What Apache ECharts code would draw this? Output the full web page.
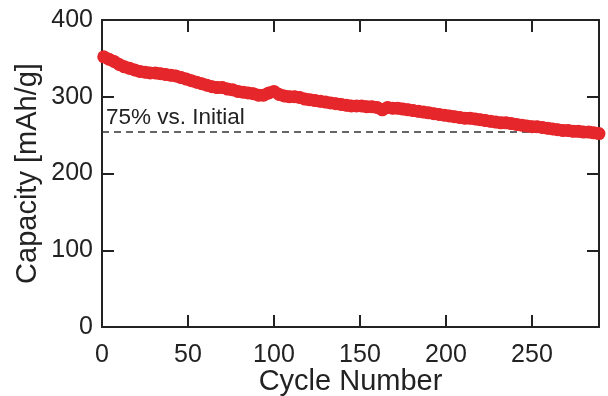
<!DOCTYPE html>
<html>
<head>
<meta charset="utf-8">
<script src="https://cdn.jsdelivr.net/npm/echarts@6/dist/echarts.min.js"></script>
<style>html,body{margin:0;padding:0;background:#fff}#c{width:608px;height:396px}</style>
</head>
<body>
<div id="c"></div>
<script>
const cycles = [1,4,7,10,13,16,19,22,25,28,31,34,37,40,43,46,49,52,55,58,61,64,67,70,73,76,79,82,85,88,91,94,97,100,103,106,109,112,115,118,121,124,127,130,133,136,139,142,145,148,151,154,157,160,163,166,169,172,175,178,181,184,187,190,193,196,199,202,205,208,211,214,217,220,223,226,229,232,235,238,241,244,247,250,253,256,259,262,265,268,271,274,277,280,283,286,289];
const capacity = [352,349,346,342,339,337,335,333,332,331,331,330,329,328,327,325,323,321,319,317,315,313,312,312,310,309,307,306,305,304,302,302,305,307,303,301,300,300,299,297,296,295,294,293,292,291,290,289,288,288,288,287,287,286,283,286,285,285,284,283,282,281,280,279,278,277,276,275,274,273,272,272,271,270,269,268,267,266,266,265,264,263,262,261,261,260,259,258,257,256,256,255,255,254,254,253,252];
const refValue = 254;
const refLabel = '75% vs. Initial';
const xTicks = [0,50,100,150,200,250];
const yTicks = [0,100,200,300,400];

const font = 'Arial, "Liberation Sans", Helvetica, sans-serif';
const axisColor = '#222';
const chart = echarts.init(document.getElementById('c'), null, {renderer:'canvas'});
const pts = cycles.map((c,i)=>[c, capacity[i]]);
const baseX = {
  type:'value', min:0, max:289, interval:50,
  axisLine:{show:true, onZero:false, lineStyle:{color:axisColor, width:2}},
  axisTick:{show:true, inside:true, length:12, lineStyle:{color:axisColor, width:2}},
  splitLine:{show:false}
};
const baseY = {
  type:'value', min:0, max:400, interval:100,
  axisLine:{show:true, onZero:false, lineStyle:{color:axisColor, width:2}},
  axisTick:{show:true, inside:true, length:12, lineStyle:{color:axisColor, width:2}},
  splitLine:{show:false}
};
chart.setOption({
  animation:false,
  grid:{left:102, right:9, top:20, bottom:69, containLabel:false, outerBoundsMode:'none'},
  xAxis:[
    Object.assign({}, baseX, {
      position:'bottom',
      name:'Cycle Number', nameLocation:'middle', nameGap:40, nameMoveOverlap:false,
      nameTextStyle:{fontFamily:font, fontSize:29, color:axisColor},
      axisLabel:{show:true, margin:16, fontFamily:font, fontSize:25, color:axisColor, showMaxLabel:false,
        formatter:v=> xTicks.includes(v) ? String(v) : ''}
    }),
    Object.assign({}, baseX, {position:'top', axisLabel:{show:false}})
  ],
  yAxis:[
    Object.assign({}, baseY, {
      position:'left',
      name:'Capacity [mAh/g]', nameLocation:'middle', nameGap:60, nameMoveOverlap:false,
      nameTextStyle:{fontFamily:font, fontSize:29, color:axisColor},
      axisLabel:{show:true, margin:9, fontFamily:font, fontSize:25, color:axisColor,
        formatter:v=> yTicks.includes(v) ? String(v) : ''}
    }),
    Object.assign({}, baseY, {position:'right', axisLabel:{show:false}})
  ],
  series:[{
    type:'line',
    data:pts,
    xAxisIndex:0, yAxisIndex:0,
    symbol:'circle', symbolSize:13, showSymbol:true,
    itemStyle:{color:'#e5262a'},
    lineStyle:{color:'#e5262a', width:12},
    z:3,
    markLine:{
      silent:true, symbol:['none','none'],
      lineStyle:{color:'#333', type:[7,5], width:1.5},
      label:{show:true, position:'insideStartTop', formatter:refLabel, fontFamily:font, fontSize:22.5, color:axisColor, distance:[4,3]},
      data:[{yAxis:refValue}],
      z:2
    }
  }]
});
</script>
</body>
</html>
